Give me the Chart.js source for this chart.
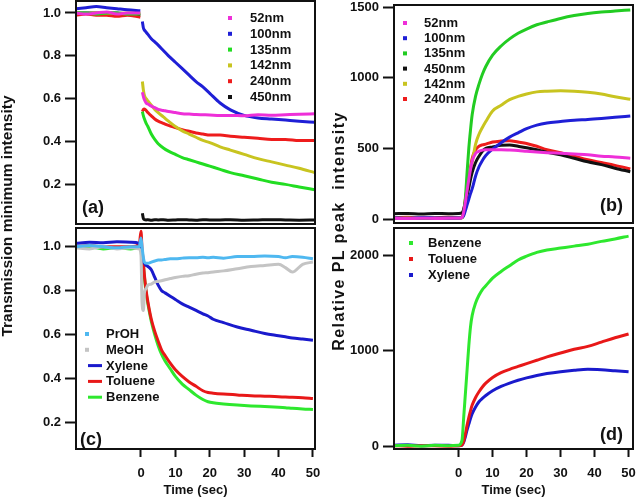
<!DOCTYPE html>
<html>
<head>
<meta charset="utf-8">
<script src="https://cdn.jsdelivr.net/npm/chart.js@4"></script>
<style>
  body { margin: 0; background: #fff; font-family: "Liberation Sans", Arial, sans-serif; }
  #page { position: relative; width: 637px; height: 498px; overflow: hidden; }
  .box { position: absolute; }
  .ytitle { position: absolute; font-weight: bold; color: #111; text-align: center;
            white-space: pre; transform: rotate(-90deg); height: 20px; line-height: 20px; }
</style>
</head>
<body>
<div id="page">
  <div class="box" style="left:0;top:0;width:318px;height:226px"><canvas id="chartA"></canvas></div>
  <div class="box" style="left:318px;top:0;width:319px;height:226px"><canvas id="chartB"></canvas></div>
  <div class="box" style="left:318px;top:226px;width:319px;height:272px"><canvas id="chartD"></canvas></div>
  <div class="box" style="left:0;top:226px;width:324px;height:272px"><canvas id="chartC"></canvas></div>
  <div class="ytitle" style="left:-123px;top:206px;width:260px;font-size:15.5px">Transmission minimum intensity</div>
  <div class="ytitle" style="left:204px;top:221px;width:270px;font-size:16px;letter-spacing:1.4px">Relative PL peak  intensity</div>
</div>
<script>
// ---- panel (a): transmission minimum vs time, by particle size ----
const timeA = [-19, -16, -13, -10, -7, -4, -0.2, 0.1, 0.4, 0.7, 1, 1.5, 2, 3, 4, 5, 6.5, 8, 10, 12, 14, 16, 18, 20, 23, 26, 30, 34, 38, 42, 46, 50.5];
const a52  = [1.0, 0.995, 1.0, 1.005, 0.995, 1.0, 1.0, null, 0.63, 0.61, 0.595, 0.58, 0.575, 0.565, 0.558, 0.55, 0.545, 0.54, 0.535, 0.53, 0.528, 0.526, 0.525, 0.524, 0.522, 0.522, 0.52, 0.525, 0.523, 0.525, 0.527, 0.53];
const a100 = [1.02, 1.025, 1.03, 1.025, 1.02, 1.015, 1.01, null, 0.96, 0.93, 0.92, 0.91, 0.9, 0.88, 0.865, 0.85, 0.825, 0.8, 0.77, 0.74, 0.71, 0.68, 0.655, 0.625, 0.58, 0.548, 0.522, 0.51, 0.505, 0.5, 0.495, 0.49];
const a135 = [1.0, 1.0, 0.995, 1.0, 1.0, 0.995, 0.995, null, 0.54, 0.52, 0.505, 0.485, 0.47, 0.435, 0.41, 0.39, 0.37, 0.355, 0.34, 0.325, 0.315, 0.305, 0.295, 0.285, 0.27, 0.255, 0.24, 0.225, 0.21, 0.2, 0.188, 0.175];
const a142 = [1.0, 0.998, 1.0, 1.0, 0.998, 1.0, 1.0, null, 0.68, 0.64, 0.615, 0.6, 0.59, 0.57, 0.55, 0.535, 0.515, 0.495, 0.47, 0.45, 0.435, 0.42, 0.405, 0.395, 0.375, 0.36, 0.34, 0.32, 0.305, 0.29, 0.275, 0.255];
const a240 = [0.99, 0.995, 0.99, 0.99, 0.985, 0.99, 0.98, null, 0.54, 0.55, 0.552, 0.545, 0.535, 0.52, 0.505, 0.495, 0.485, 0.475, 0.465, 0.455, 0.448, 0.44, 0.435, 0.43, 0.43, 0.425, 0.42, 0.415, 0.41, 0.41, 0.405, 0.405];
const a450 = [1.0, 1.0, 1.0, 1.0, 1.0, 0.995, 0.99, null, 0.065, 0.04, 0.035, 0.034, 0.035, 0.033, 0.035, 0.034, 0.035, 0.033, 0.034, 0.035, 0.034, 0.033, 0.035, 0.034, 0.034, 0.035, 0.033, 0.034, 0.035, 0.034, 0.033, 0.034];

// ---- panel (b): relative PL peak intensity, by particle size ----
const timeB = [-19, -15, -11, -7, -3, 0, 1, 1.5, 2, 2.5, 3, 3.5, 4, 5, 6, 7, 8, 10, 12.5, 15, 17.5, 20, 23, 26, 30, 34, 38, 42, 46, 50.5];
const b52  = [5, 3, 6, 4, 5, 5, 10, 50, 120, 200, 280, 350, 410, 465, 480, 488, 490, 490, 490, 488, 485, 480, 475, 470, 465, 460, 455, 445, 440, 430];
const b100 = [8, 6, 10, 8, 7, 8, 10, 25, 60, 100, 140, 180, 215, 305, 370, 415, 450, 495, 540, 580, 610, 640, 665, 680, 690, 700, 705, 712, 720, 730];
const b135 = [5, 3, 6, 4, 5, 6, 10, 40, 150, 330, 500, 630, 740, 870, 955, 1025, 1080, 1160, 1225, 1275, 1315, 1345, 1375, 1395, 1420, 1440, 1455, 1465, 1472, 1480];
const b450 = [38, 40, 36, 40, 38, 40, 45, 70, 120, 170, 220, 280, 330, 400, 445, 480, 500, 510, 522, 524, 515, 505, 490, 472, 455, 430, 405, 385, 360, 335];
const b142 = [5, 8, 4, 6, 5, 5, 10, 30, 90, 170, 250, 330, 400, 530, 600, 648, 690, 765, 805, 845, 868, 885, 900, 905, 908, 905, 898, 885, 865, 848];
const b240 = [10, 12, 8, 10, 12, 10, 15, 60, 140, 220, 280, 360, 430, 490, 515, 525, 530, 545, 552, 555, 545, 535, 515, 490, 470, 445, 420, 400, 380, 355];

// ---- panel (c): transmission minimum vs time, by solvent ----
const timeC = [-19, -15, -11, -7, -3, -0.5, 0, 0.3, 0.7, 1, 1.5, 2, 3, 4, 5, 6, 7, 8.5, 10, 12, 14, 16, 18, 19.5, 21, 24, 28, 32, 36, 40, 42, 44, 47, 50];
const cPrOH    = [1.0, 1.005, 1.0, 0.995, 1.0, 1.0, 1.04, 1.0, 0.95, 0.93, 0.925, 0.925, 0.93, 0.935, 0.94, 0.94, 0.942, 0.945, 0.945, 0.948, 0.95, 0.95, 0.952, 0.95, 0.952, 0.948, 0.955, 0.955, 0.958, 0.955, 0.95, 0.955, 0.952, 0.945];
const cMeOH    = [0.995, 0.99, 1.0, 0.99, 0.995, 0.99, 0.96, 0.75, 0.71, 0.79, 0.81, 0.825, 0.83, 0.84, 0.842, 0.845, 0.85, 0.855, 0.86, 0.865, 0.868, 0.875, 0.88, 0.882, 0.885, 0.89, 0.9, 0.91, 0.915, 0.92, 0.905, 0.885, 0.92, 0.93];
const cXylene  = [1.015, 1.02, 1.018, 1.022, 1.02, 1.015, 1.0, 0.95, 0.93, 0.925, 0.915, 0.91, 0.895, 0.86, 0.825, 0.8, 0.79, 0.775, 0.76, 0.74, 0.725, 0.71, 0.695, 0.685, 0.67, 0.655, 0.635, 0.62, 0.605, 0.595, 0.59, 0.585, 0.58, 0.575];
const cToluene = [1.0, 1.005, 1.0, 1.0, 1.0, 1.01, 1.07, 0.99, 0.93, 0.87, 0.8, 0.75, 0.67, 0.615, 0.57, 0.53, 0.505, 0.47, 0.44, 0.41, 0.385, 0.365, 0.345, 0.337, 0.334, 0.33, 0.326, 0.322, 0.32, 0.318, 0.316, 0.315, 0.313, 0.31];
const cBenzene = [0.995, 1.0, 0.99, 0.995, 0.99, 0.995, 0.99, 0.96, 0.91, 0.86, 0.79, 0.74, 0.66, 0.6, 0.55, 0.51, 0.48, 0.445, 0.41, 0.375, 0.35, 0.325, 0.305, 0.295, 0.29, 0.285, 0.28, 0.276, 0.273, 0.27, 0.268, 0.265, 0.262, 0.26];

// ---- panel (d): relative PL peak intensity, by solvent ----
const timeD = [-19, -15, -11, -7, -3, 0, 1, 1.5, 2, 2.5, 3, 3.5, 4, 5, 6, 7, 8, 10, 12.5, 15, 17.5, 20, 23, 26, 30, 34, 38, 42, 46, 50];
const dBenzene = [5, 10, 0, 8, 5, 10, 60, 300, 550, 800, 1050, 1250, 1370, 1500, 1580, 1640, 1680, 1760, 1830, 1890, 1950, 1990, 2030, 2055, 2075, 2095, 2115, 2145, 2170, 2200];
const dToluene = [5, 0, 5, 3, 0, 5, 10, 50, 130, 220, 300, 370, 430, 510, 570, 620, 660, 720, 770, 805, 835, 865, 900, 935, 975, 1015, 1045, 1090, 1135, 1175];
const dXylene  = [10, 15, 5, 10, 8, 5, 10, 40, 100, 170, 230, 290, 340, 410, 465, 500, 530, 580, 625, 660, 690, 715, 740, 760, 780, 795, 805, 800, 790, 780];

// axis ticks
const timeTicks = [0, 10, 20, 30, 40, 50];
const transTicks = [0.2, 0.4, 0.6, 0.8, 1.0];
const plTicksB = [0, 500, 1000, 1500];
const plTicksD = [0, 1000, 2000];

const INK = '#111';
Chart.defaults.font.family = '"Liberation Sans", Arial, sans-serif';
Chart.defaults.font.weight = 'bold';
Chart.defaults.font.size = 13;
Chart.defaults.color = INK;

function series(label, times, vals, color) {
  return {
    label, borderColor: color, backgroundColor: color,
    data: times.map((t, i) => ({ x: t, y: vals[i] })),
    showLine: true, borderWidth: 3, pointRadius: 0,
    cubicInterpolationMode: 'monotone', spanGaps: false
  };
}

// frame, panel tag and in-plot legend
const panelDecor = {
  id: 'panelDecor',
  afterDatasetsDraw(chart, args, o) {
    const { ctx, chartArea: a } = chart;
    ctx.save();
    ctx.lineWidth = 2;
    ctx.strokeStyle = INK;
    ctx.strokeRect(a.left, a.top, a.right - a.left, a.bottom - a.top);
    ctx.fillStyle = INK;
    ctx.textBaseline = 'middle';
    ctx.font = 'bold 18px "Liberation Sans", Arial, sans-serif';
    ctx.fillText(o.tag, a.left + o.tagX, a.top + o.tagY);
    ctx.font = 'bold 13px "Liberation Sans", Arial, sans-serif';
    chart.data.datasets.forEach((ds, i) => {
      const y = a.top + o.legY + i * o.legDy;
      ctx.fillStyle = ds.borderColor;
      if ((o.lines || []).includes(ds.label)) ctx.fillRect(a.left + o.lineX - 7, y - 1.5, 14, 3);
      else ctx.fillRect(a.left + o.dotX - 2, y - 2, 4, 4);
      ctx.fillStyle = INK;
      ctx.fillText(ds.label, a.left + o.textX, y + 0.5);
    });
    ctx.restore();
  }
};

function noPad(s) {
  s.paddingTop = 0; s.paddingBottom = 0; s.paddingLeft = 0; s.paddingRight = 0;
}

function yAxis(min, max, ticks, fmt) {
  return {
    type: 'linear', min, max,
    afterFit: s => { s.width = 76; noPad(s); },
    afterBuildTicks: s => { s.ticks = ticks.map(v => ({ value: v })); },
    grid: { drawOnChartArea: false, drawTicks: true, tickLength: 11, tickWidth: 2, tickColor: INK },
    border: { display: false },
    ticks: { padding: 4, callback: fmt }
  };
}

function xAxis(min, max, shown) {
  if (!shown) return { type: 'linear', min, max, display: false };
  return {
    type: 'linear', min, max,
    afterFit: s => { s.height = 49; noPad(s); },
    afterBuildTicks: s => { s.ticks = timeTicks.map(v => ({ value: v })); },
    grid: { drawOnChartArea: false, drawTicks: true, tickLength: 8, tickWidth: 2, tickColor: INK },
    border: { display: false },
    ticks: { padding: 9, maxRotation: 0 },
    title: { display: true, text: 'Time (sec)', padding: { top: 0, bottom: 0 }, font: { size: 13, weight: 'bold' } }
  };
}

function makeChart(id, datasets, scales, decor, padding) {
  return new Chart(document.getElementById(id), {
    type: 'scatter',
    data: { datasets },
    options: {
      responsive: true, maintainAspectRatio: false, animation: false,
      layout: { padding },
      plugins: { legend: { display: false }, tooltip: { enabled: false }, panelDecor: decor },
      scales
    },
    plugins: [panelDecor]
  });
}

const f1 = v => v.toFixed(1);
const f0 = v => String(v);

makeChart('chartA', [
  series('52nm', timeA, a52, '#ee2fd8'),
  series('100nm', timeA, a100, '#1f1fd6'),
  series('135nm', timeA, a135, '#22dd22'),
  series('142nm', timeA, a142, '#c8c420'),
  series('240nm', timeA, a240, '#ee1c1c'),
  series('450nm', timeA, a450, '#111111')
], { x: xAxis(-18.9, 50.6, false), y: yAxis(0.015, 1.056, transTicks, f1) },
  { tag: '(a)', tagX: 6, tagY: 207, legY: 17, legDy: 15.8, dotX: 154, textX: 174 },
  { top: 1, right: 3, bottom: 2, left: 0 });

makeChart('chartB', [
  series('52nm', timeB, b52, '#ee2fd8'),
  series('100nm', timeB, b100, '#1f1fd6'),
  series('135nm', timeB, b135, '#22cc22'),
  series('450nm', timeB, b450, '#111111'),
  series('142nm', timeB, b142, '#c8c420'),
  series('240nm', timeB, b240, '#ee1c1c')
], { x: xAxis(-19, 51.3, false), y: yAxis(-28, 1515, plTicksB, f0) },
  { tag: '(b)', tagX: 206, tagY: 201, legY: 18, legDy: 15.2, dotX: 11, textX: 30 },
  { top: 5, right: 4, bottom: 3, left: 0 });

makeChart('chartC', [
  series('PrOH', timeC, cPrOH, '#4fb8f0'),
  series('MeOH', timeC, cMeOH, '#c4c4c4'),
  series('Xylene', timeC, cXylene, '#1a1acc'),
  series('Toluene', timeC, cToluene, '#e81818'),
  series('Benzene', timeC, cBenzene, '#2ee82e')
], { x: xAxis(-18.9, 50.6, true), y: yAxis(0.08, 1.085, transTicks, f1) },
  { tag: '(c)', tagX: 4, tagY: 212, legY: 106, legDy: 15.8, dotX: 11, lineX: 19, textX: 30,
    lines: ['Xylene', 'Toluene', 'Benzene'] },
  { top: 2, right: 9, bottom: 0, left: 0 });

makeChart('chartD', [
  series('Benzene', timeD, dBenzene, '#2ee82e'),
  series('Toluene', timeD, dToluene, '#e81818'),
  series('Xylene', timeD, dXylene, '#1a1acc')
], { x: xAxis(-19, 51.3, true), y: yAxis(-30, 2285, plTicksD, f0) },
  { tag: '(d)', tagX: 206, tagY: 207, legY: 15, legDy: 16, dotX: 17, textX: 34 },
  { top: 2, right: 4, bottom: 0, left: 0 });
</script>
</body>
</html>
